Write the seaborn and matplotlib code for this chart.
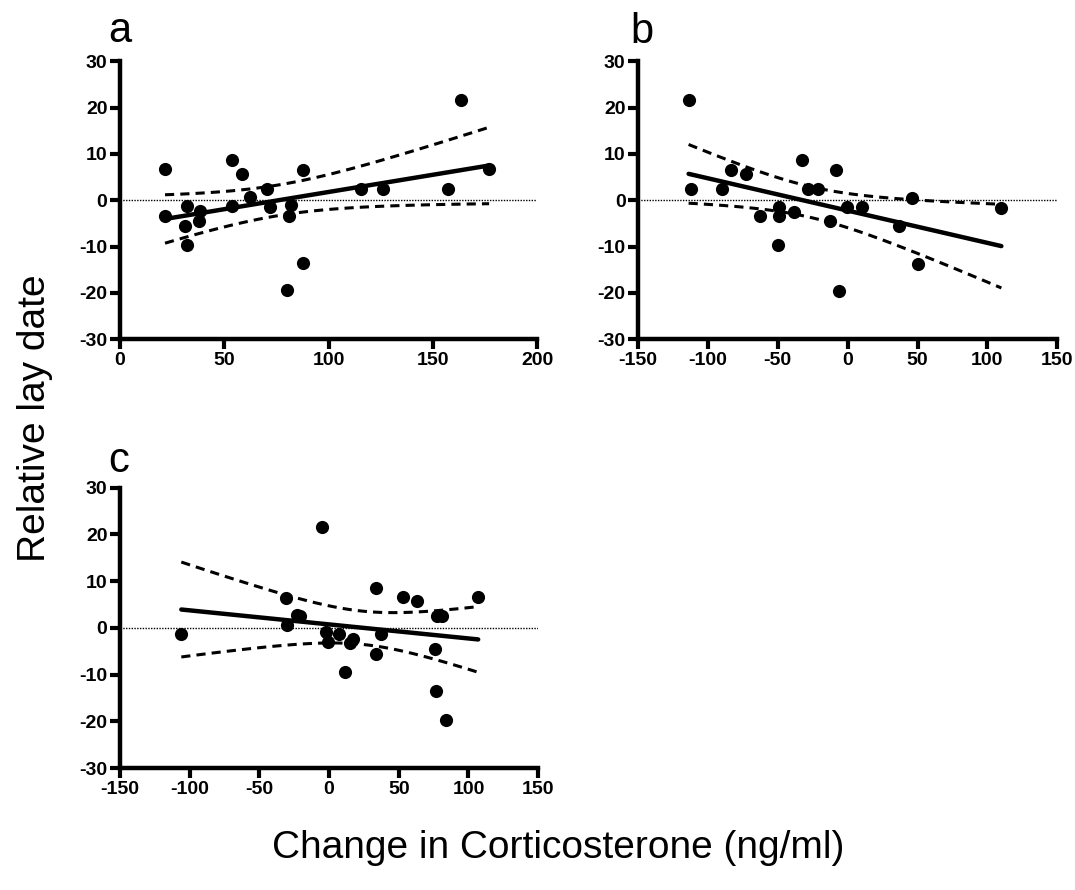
import matplotlib
matplotlib.use("Agg")
import matplotlib.pyplot as plt
import seaborn as sns
import pandas as pd
import numpy as np

# data (change in corticosterone vs relative lay date)
a_x = [21.6, 21.6, 32.0, 31.2, 32.3, 38.3, 37.9, 53.5, 53.5, 58.3, 62.3, 70.6,
       71.9, 82.0, 81.0, 79.9, 87.9, 87.9, 115.5, 125.9, 157.3, 163.7, 177.0]
a_y = [6.7, -3.5, -1.3, -5.5, -9.6, -2.4, -4.5, 8.6, -1.3, 5.6, 0.7, 2.5,
       -1.4, -1.1, -3.5, -19.4, 6.6, -13.5, 2.5, 2.5, 2.5, 21.7, 6.7]

b_x = [-113.8, -111.9, -89.8, -83.3, -72.6, -62.6, -49.3, -49.3, -50.0, -38.1, -32.9,
       -28.6, -21.4, -12.6, -8.3, -6.4, -0.5, 10.0, 36.9, 46.4, 50.0, 110.0]
b_y = [21.7, 2.5, 2.5, 6.6, 5.6, -3.5, -1.4, -3.5, -9.6, -2.5, 8.6,
       2.5, 2.5, -4.5, 6.6, -19.6, -1.4, -1.4, -5.6, 0.5, -13.7, -1.7]

c_x = [-106.0, -30.7, -30.2, -23.1, -21.0, -5.0, -1.9, -0.7, 7.1, 11.1, 17.0, 15.1,
       33.5, 34.0, 37.0, 53.0, 63.0, 76.0, 76.8, 77.5, 81.0, 84.0, 107.0]
c_y = [-1.4, 6.5, 0.6, 2.7, 2.5, 21.5, -0.9, -3.1, -1.2, -9.4, -2.3, -3.3,
       -5.5, 8.5, -1.2, 6.6, 5.8, -4.5, -13.5, 2.6, 2.6, -19.7, 6.6]

panel_labels = ['a', 'b', 'c']
a_xticks = [0, 50, 100, 150, 200]
bc_xticks = [-150, -100, -50, 0, 50, 100, 150]
yticks = [-30, -20, -10, 0, 10, 20, 30]

sns.set_style('ticks', {'axes.edgecolor': 'black', 'text.color': 'black',
                        'xtick.color': 'black', 'ytick.color': 'black',
                        'axes.labelcolor': 'black'})
plt.rcParams['font.family'] = ['Liberation Sans', 'DejaVu Sans']
plt.rcParams['axes.unicode_minus'] = False

fig = plt.figure(figsize=(10.75, 8.9), dpi=100)

ax_a = fig.add_axes([0.1116, 0.619, 0.388, 0.312])
ax_b = fig.add_axes([0.5935, 0.619, 0.390, 0.312])
ax_c = fig.add_axes([0.1116, 0.137, 0.389, 0.315])

panels = [
    (ax_a, a_x, a_y, a_xticks, (0, 200)),
    (ax_b, b_x, b_y, bc_xticks, (-150, 150)),
    (ax_c, c_x, c_y, bc_xticks, (-150, 150)),
]

T95 = 2.08  # approx t value, ~21 df

for ax, xs, ys, xt, xlim in panels:
    df = pd.DataFrame({'x': xs, 'y': ys})
    ax.axhline(0, color='black', lw=1, ls=(0, (1, 1)), zorder=1)

    # linear fit + 95% confidence band of the mean
    x = np.asarray(xs)
    y = np.asarray(ys)
    n = len(x)
    slope, icpt = np.polyfit(x, y, 1)
    grid = np.linspace(x.min(), x.max(), 100)
    fit = icpt + slope * grid
    resid = y - (icpt + slope * x)
    s = np.sqrt(np.sum(resid ** 2) / (n - 2))
    se = s * np.sqrt(1 / n + (grid - x.mean()) ** 2 / np.sum((x - x.mean()) ** 2))
    fit_df = pd.DataFrame({'x': grid, 'fit': fit,
                           'lo': fit - T95 * se, 'hi': fit + T95 * se})

    sns.lineplot(data=fit_df, x='x', y='fit', ax=ax, color='black', lw=3.2, zorder=3)
    for col in ['lo', 'hi']:
        sns.lineplot(data=fit_df, x='x', y=col, ax=ax, color='black', lw=2.2,
                     dashes=False, zorder=3).lines[-1].set_dashes((3, 2))
    sns.scatterplot(data=df, x='x', y='y', ax=ax, color='black', s=90,
                    edgecolor='black', linewidth=0, zorder=4)

    ax.set_xlim(*xlim)
    ax.set_ylim(-30, 30)
    ax.set_xticks(xt)
    ax.set_yticks(yticks)
    ax.set_xlabel('')
    ax.set_ylabel('')
    sns.despine(ax=ax)
    for sp in ['left', 'bottom']:
        ax.spines[sp].set_linewidth(3.2)
    ax.tick_params(width=3, length=7, labelsize=14, pad=2, colors='black')
    for lab in ax.get_xticklabels() + ax.get_yticklabels():
        lab.set_fontweight('bold')

fig.text(0.1005, 0.953, 'a', fontsize=30, va='baseline', ha='left', color='black')
fig.text(0.586, 0.952, 'b', fontsize=30, va='baseline', ha='left', color='black')
fig.text(0.1005, 0.470, 'c', fontsize=30, va='baseline', ha='left', color='black')

fig.text(0.033, 0.530, 'Relative lay date', fontsize=28, rotation=90,
         ha='center', va='center', color='black')
fig.text(0.519, 0.047, 'Change in Corticosterone (ng/ml)', fontsize=28,
         ha='center', va='center', color='black')

fig.savefig('out.png', dpi=100)
